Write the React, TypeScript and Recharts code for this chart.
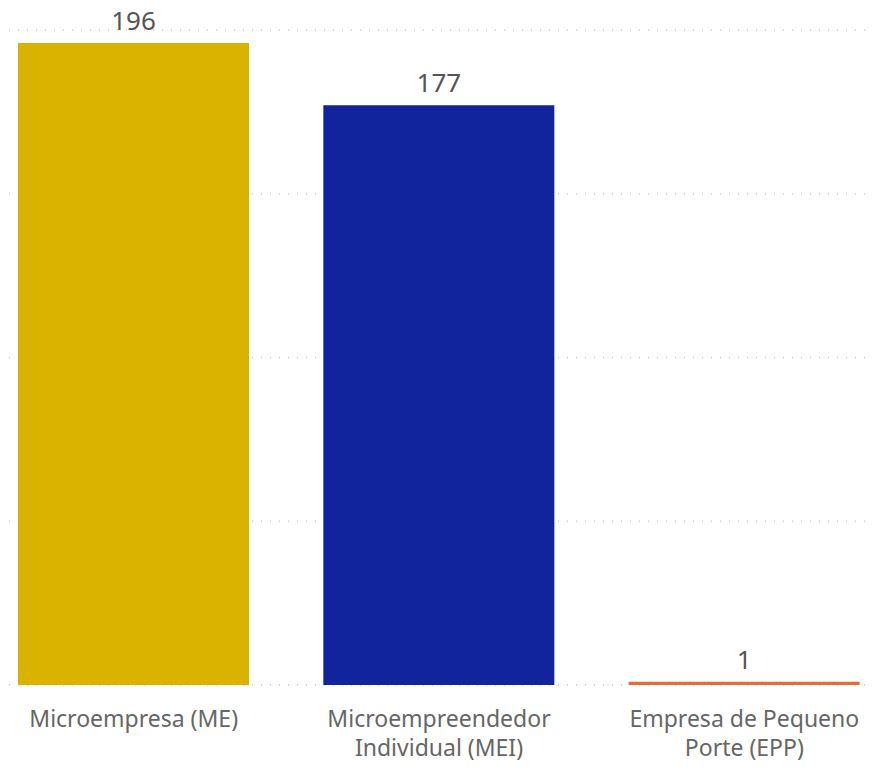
import React from "react";
import { BarChart, Bar, XAxis, YAxis, CartesianGrid, LabelList, Cell } from "recharts";

const categories = ["Microempresa (ME)", "Microempreendedor Individual (MEI)", "Empresa de Pequeno Porte (EPP)"];
const values = [196, 177, 1];
const colors = ["#D9B300", "#12239E", "#E66C37"];
const yTicks = [0, 50, 100, 150, 200];

const data = categories.map((name, i) => ({ name, value: values[i] }));

const FONT = "'Segoe UI', 'Noto Sans', 'Open Sans', sans-serif";
const TICK_SIZE = 23;

let ctx: CanvasRenderingContext2D | null = null;
function measure(s: string): number {
  if (!ctx && typeof document !== "undefined") {
    ctx = document.createElement("canvas").getContext("2d");
  }
  if (!ctx) return s.length * TICK_SIZE * 0.55;
  ctx.font = `${TICK_SIZE}px ${FONT}`;
  return ctx.measureText(s).width;
}

function wrap(text: string, maxWidth: number): string[] {
  const words = text.split(" ");
  const lines: string[] = [];
  let cur = "";
  for (const w of words) {
    const next = cur ? cur + " " + w : w;
    if (cur && measure(next) > maxWidth) {
      lines.push(cur);
      cur = w;
    } else {
      cur = next;
    }
  }
  if (cur) lines.push(cur);
  return lines;
}

const Tick = (props: any) => {
  const { x, y, payload } = props;
  const lines = wrap(String(payload.value), 255);
  return (
    <text
      x={x}
      y={y + 34}
      textAnchor="middle"
      fill="#666666"
      fontSize={TICK_SIZE}
      fontFamily={FONT}
    >
      {lines.map((l, i) => (
        <tspan key={i} x={x} dy={i === 0 ? 0 : 29}>
          {l}
        </tspan>
      ))}
    </text>
  );
};

export default function App() {
  return (
    <div style={{ marginLeft: -8, marginTop: -8, width: 876, height: 769 }}>
      <BarChart
        width={876}
        height={769}
        data={data}
        margin={{ top: 30, right: 3, bottom: 0, left: 0 }}
      >
        <CartesianGrid vertical={false} stroke="#C8C8C8" strokeDasharray="1 8" strokeWidth={1.5} />
        <XAxis
          dataKey="name"
          axisLine={false}
          tickLine={false}
          interval={0}
          padding={{ left: -19, right: -24 }}
          tick={<Tick />}
          height={84}
        />
        <YAxis hide domain={[0, 200]} ticks={yTicks} width={0} />
        <Bar dataKey="value" barSize={231} isAnimationActive={false}>
          {data.map((d, i) => (
            <Cell key={d.name} fill={colors[i]} />
          ))}
          <LabelList
            dataKey="value"
            position="top"
            offset={13}
            fill="#555555"
            fontSize={26}
            fontFamily={FONT}
          />
        </Bar>
      </BarChart>
    </div>
  );
}
